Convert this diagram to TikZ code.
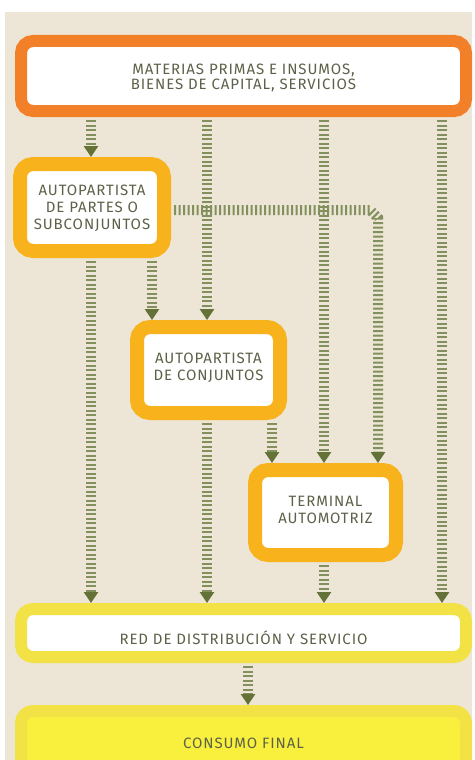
\documentclass[tikz,border=0pt]{standalone}
\usepackage{fontspec}
\setmainfont{Fira Sans}[LetterSpace=6]
\usetikzlibrary{arrows.meta}
\definecolor{bgc}{RGB}{237,229,214}
\definecolor{orng}{RGB}{242,128,40}
\definecolor{gold}{RGB}{247,178,28}
\definecolor{yel}{RGB}{243,226,70}
\definecolor{yelin}{RGB}{249,240,62}
\definecolor{txt}{RGB}{92,98,72}
\definecolor{stripe}{RGB}{130,144,94}
\definecolor{tipc}{RGB}{100,114,56}
\newcommand{\btext}[2]{\raisebox{#1}[0pt][0pt]{\begin{tabular}{@{}c@{}}#2\end{tabular}}}
\begin{document}
\begin{tikzpicture}[x=1pt,y=-1pt,
  boxbase/.style={rectangle, fill=white, inner sep=0pt, align=center, text=txt,
    font=\fontsize{15}{15}\selectfont},
  ringtop/.style={boxbase, draw=orng, line width=12pt, outer sep=6pt, rounded corners=12pt},
  ringgold/.style={boxbase, draw=gold, line width=14pt, outer sep=7pt, rounded corners=13pt,
    font=\fontsize{15}{17}\selectfont},
  ringyel/.style={boxbase, draw=yel, line width=12pt, outer sep=6pt, rounded corners=12pt},
  flow/.style={draw=stripe, line width=10pt, dash pattern=on 2pt off 2.5pt,
    shorten <=3pt, -{Triangle[width=14pt,length=11pt,color=tipc,fill=tipc]}},
]
\useasboundingbox (0,0) rectangle (474,760);
\clip (0,0) rectangle (474,760);
\fill[white] (0,0) rectangle (474,760);
\fill[bgc] (5,12) rectangle (472,760);

% boxes
\node[ringtop, minimum width=445pt, minimum height=70pt] (top) at (243.5,76)
  {\btext{-6.6pt}{MATERIAS PRIMAS E INSUMOS,\\BIENES DE CAPITAL, SERVICIOS}};
\node[ringgold, minimum width=144pt, minimum height=87pt] (b2) at (92,207.5)
  {\btext{-5.4pt}{AUTOPARTISTA\\DE PARTES O\\SUBCONJUNTOS}};
\node[ringgold, minimum width=143pt, minimum height=86pt] (b3) at (208.5,370)
  {\btext{-1.9pt}{AUTOPARTISTA\\DE CONJUNTOS}};
\node[ringgold, minimum width=141pt, minimum height=85pt] (term) at (325.5,512.5)
  {\btext{-2.9pt}{TERMINAL\\AUTOMOTRIZ}};
\node[ringyel, minimum width=445pt, minimum height=48pt] (red) at (243.5,633)
  {\btext{-10.4pt}{RED DE DISTRIBUCIÓN Y SERVICIO}};
\node[ringyel, fill=yelin, minimum width=445pt, minimum height=64pt] (cons) at (243.5,743)
  {\btext{-5.6pt}{CONSUMO FINAL}};

% columns
\coordinate (c1) at (91,0);
\coordinate (c2) at (152,0);
\coordinate (c3) at (207,0);
\coordinate (c4) at (272,0);
\coordinate (c5) at (324,0);
\coordinate (c6) at (378,0);
\coordinate (c7) at (442,0);
\coordinate (c8) at (248,0);
\coordinate (bend1) at (370,210);
\coordinate (bend2) at (378,218);

% connectors
\draw[flow] (top.south -| c1) -- (b2.north -| c1);
\draw[flow] (top.south -| c3) -- (b3.north -| c3);
\draw[flow] (top.south -| c5) -- (term.north -| c5);
\draw[flow] (top.south -| c7) -- (red.north -| c7);
\draw[flow] (b2.south -| c1) -- (red.north -| c1);
\draw[flow] (b2.south -| c2) -- (b3.north -| c2);
\draw[flow] (b2.east |- bend1) -- (bend1) -- (bend2) -- (term.north -| c6);
\draw[flow] (b3.south -| c3) -- (red.north -| c3);
\draw[flow] (b3.south -| c4) -- (term.north -| c4);
\draw[flow] (term.south -| c5) -- (red.north -| c5);
\draw[flow] (red.south -| c8) -- (cons.north -| c8);
\end{tikzpicture}
\end{document}
